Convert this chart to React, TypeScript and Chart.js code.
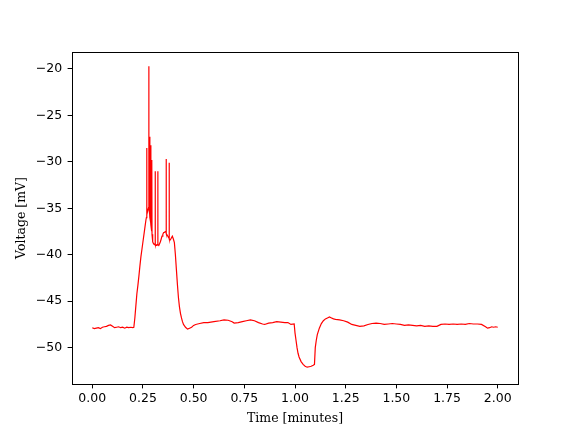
import React, { useEffect, useRef } from "react";
import { Chart, registerables } from "chart.js";

Chart.register(...registerables);

const timeMin: number[] = [
  0.000, 0.010, 0.020, 0.030, 0.040, 0.050, 0.060, 0.070, 0.080, 0.090,
  0.100, 0.110, 0.120, 0.130, 0.140, 0.150, 0.160, 0.170, 0.180, 0.190,
  0.200, 0.205, 0.210, 0.215, 0.220, 0.225, 0.230, 0.235, 0.240, 0.245,
  0.250, 0.255, 0.260, 0.265, 0.2670, 0.2685, 0.2690, 0.2695, 0.2740, 0.2780,
  0.2788, 0.2796, 0.2830, 0.2837, 0.2844, 0.2880, 0.2887, 0.2894, 0.2925, 0.2936,
  0.2947, 0.2980, 0.3020, 0.3060, 0.3095, 0.3103, 0.3111, 0.3150, 0.3190, 0.3225,
  0.3232, 0.3240, 0.3280, 0.3320, 0.3360, 0.3400, 0.3440, 0.3480, 0.3520, 0.3560,
  0.3600, 0.3638, 0.3645, 0.3652, 0.3700, 0.3750, 0.3786, 0.3793, 0.3800, 0.3850,
  0.3900, 0.3950, 0.4000, 0.4050, 0.4100, 0.4150, 0.4200, 0.4250, 0.4300, 0.4350,
  0.4400, 0.4450, 0.4500, 0.4600, 0.4700, 0.4800, 0.4900, 0.5000, 0.5100, 0.5200,
  0.5300, 0.5500, 0.5700, 0.6000, 0.6300, 0.6500, 0.6700, 0.6900, 0.7000, 0.7200,
  0.7400, 0.7600, 0.7800, 0.8000, 0.8200, 0.8400, 0.8500, 0.8700, 0.8900, 0.9100,
  0.9300, 0.9500, 0.9650, 0.9800, 0.9960, 1.0000, 1.0050, 1.0100, 1.0150, 1.0200,
  1.0300, 1.0400, 1.0500, 1.0600, 1.0700, 1.0800, 1.0900, 1.0960, 1.1000, 1.1050,
  1.1100, 1.1200, 1.1300, 1.1400, 1.1500, 1.1600, 1.1700, 1.1800, 1.1900, 1.2000,
  1.2200, 1.2400, 1.2600, 1.2800, 1.3000, 1.3200, 1.3400, 1.3600, 1.3800, 1.4000,
  1.4200, 1.4400, 1.4600, 1.4800, 1.5000, 1.5200, 1.5400, 1.5600, 1.5800, 1.6000,
  1.6200, 1.6400, 1.6600, 1.6800, 1.7000, 1.7200, 1.7400, 1.7600, 1.7800, 1.8000,
  1.8200, 1.8400, 1.8600, 1.8800, 1.9000, 1.9200, 1.9400, 1.9500, 1.9600, 1.9700,
  1.9800, 1.9900, 2.0000,
];

const voltageMv: number[] = [
  -47.85, -47.95, -47.9, -47.85, -47.95, -47.8, -47.75, -47.7, -47.6, -47.55,
  -47.7, -47.85, -47.8, -47.75, -47.85, -47.8, -47.9, -47.8, -47.85, -47.8,
  -47.85, -47.8, -46.8, -45.5, -44.2, -43.3, -42.3, -41.2, -40.2, -39.4,
  -38.6, -37.8, -37.0, -36.2, -36.0, -35.8, -28.5, -35.7, -35.2, -34.9,
  -19.7, -35.0, -35.6, -27.3, -36.0, -36.5, -28.2, -36.8, -37.4, -29.8,
  -37.8, -38.6, -38.8, -38.9, -38.8, -31.0, -38.9, -39.0, -38.9, -38.9,
  -31.0, -38.9, -39.0, -38.8, -38.6, -38.3, -38.0, -37.8, -37.6, -37.6,
  -37.5, -37.6, -29.7, -37.7, -37.9, -38.1, -38.2, -30.1, -38.3, -38.4,
  -38.2, -38.0, -38.3, -38.7, -40.0, -41.6, -43.2, -44.6, -45.6, -46.3,
  -46.8, -47.2, -47.5, -47.8, -48.0, -47.9, -47.8, -47.6, -47.5, -47.45,
  -47.4, -47.3, -47.3, -47.2, -47.1, -47.0, -47.05, -47.2, -47.35, -47.3,
  -47.2, -47.1, -47.0, -47.1, -47.3, -47.45, -47.5, -47.35, -47.3, -47.2,
  -47.25, -47.3, -47.3, -47.5, -47.45, -48.4, -49.2, -50.0, -50.6, -51.0,
  -51.5, -51.8, -52.0, -52.1, -52.05, -52.0, -51.9, -51.8, -50.0, -49.2,
  -48.6, -47.9, -47.4, -47.1, -46.9, -46.8, -46.7, -46.8, -46.9, -46.95,
  -47.0, -47.1, -47.25, -47.5, -47.6, -47.7, -47.65, -47.5, -47.4, -47.35,
  -47.4, -47.5, -47.45, -47.4, -47.45, -47.5, -47.6, -47.55, -47.6, -47.65,
  -47.6, -47.7, -47.65, -47.7, -47.7, -47.5, -47.45, -47.5, -47.45, -47.5,
  -47.45, -47.5, -47.4, -47.45, -47.45, -47.5, -47.75, -47.9, -47.85, -47.75,
  -47.8, -47.75, -47.8,
];

const xTickValues: number[] = [0, 0.25, 0.5, 0.75, 1.0, 1.25, 1.5, 1.75, 2.0];
const yTickValues: number[] = [-50, -45, -40, -35, -30, -25, -20];

const xTitle = "Time [minutes]";
const yTitle = "Voltage [mV]";

const framePlugin = {
  id: "frame",
  afterDraw(chart: any) {
    const { ctx, chartArea } = chart;
    ctx.save();
    ctx.strokeStyle = "#000";
    ctx.lineWidth = 1;
    ctx.strokeRect(
      Math.round(chartArea.left) + 0.5,
      Math.round(chartArea.top) + 0.5,
      Math.round(chartArea.right - chartArea.left),
      Math.round(chartArea.bottom - chartArea.top)
    );
    ctx.restore();
  },
};

export default function App() {
  const canvasRef = useRef<HTMLCanvasElement | null>(null);

  useEffect(() => {
    document.body.style.margin = "0";
    const canvas = canvasRef.current;
    if (!canvas) return;
    const points = timeMin.map((t, i) => ({ x: t, y: voltageMv[i] }));
    const fmtMinus = (v: number, digits: number) => {
      const s = Math.abs(v).toFixed(digits);
      return v < 0 ? "\u2212" + s : s;
    };
    const tickFont = { family: "DejaVu Sans", size: 12.5 };
    const titleFont = { family: "DejaVu Serif", size: 12.5 };
    const chart = new Chart(canvas, {
      type: "line",
      data: {
        datasets: [
          {
            data: points,
            borderColor: "#ff0000",
            borderWidth: 1.2,
            pointRadius: 0,
            tension: 0,
            fill: false,
          },
        ],
      },
      options: {
        animation: false,
        responsive: false,
        maintainAspectRatio: false,
        layout: { padding: { left: 0, top: 52, right: 58, bottom: 0 } },
        plugins: {
          legend: { display: false },
          tooltip: { enabled: false },
        },
        scales: {
          x: {
            type: "linear",
            min: -0.1,
            max: 2.1,
            afterBuildTicks: (scale: any) => {
              scale.ticks = xTickValues.map((v) => ({ value: v }));
            },
            afterFit: (scale: any) => {
              scale.height = 48;
            },
            ticks: {
              callback: (v: any) => fmtMinus(Number(v), 2),
              color: "#000",
              font: tickFont,
              padding: 3,
              maxRotation: 0,
              autoSkip: false,
            },
            grid: {
              drawOnChartArea: false,
              drawTicks: true,
              tickLength: 4.4,
              color: "#000",
            },
            border: { display: true, color: "#000" },
            title: {
              display: true,
              text: xTitle,
              color: "#000",
              font: titleFont,
              padding: { top: 0, bottom: 6 },
            },
          },
          y: {
            type: "linear",
            min: -53.91,
            max: -18.17,
            afterBuildTicks: (scale: any) => {
              scale.ticks = yTickValues.map((v) => ({ value: v }));
            },
            afterFit: (scale: any) => {
              scale.width = 72;
            },
            ticks: {
              callback: (v: any) => fmtMinus(Number(v), 0),
              color: "#000",
              font: tickFont,
              padding: 5.5,
              autoSkip: false,
            },
            grid: {
              drawOnChartArea: false,
              drawTicks: true,
              tickLength: 4.4,
              color: "#000",
            },
            border: { display: true, color: "#000" },
            title: {
              display: true,
              text: yTitle,
              color: "#000",
              font: titleFont,
              padding: { top: 14.5, bottom: 0 },
            },
          },
        },
      },
      plugins: [framePlugin],
    });
    return () => chart.destroy();
  }, []);

  return (
    <div style={{ position: "absolute", left: 0, top: 0, width: 576, height: 432, background: "#fff" }}>
      <canvas ref={canvasRef} width={576} height={432} style={{ width: 576, height: 432 }} />
    </div>
  );
}
